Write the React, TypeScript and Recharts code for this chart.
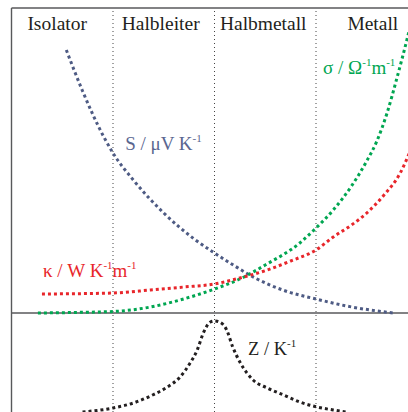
import { LineChart, Line, XAxis, YAxis, ReferenceLine, ReferenceDot } from "recharts";

// x runs across the four material classes (0..4), y is in arbitrary units, 0 = baseline
const CLASSES = ["Isolator", "Halbleiter", "Halbmetall", "Metall"];
const CLASS_X = [0.45, 1.47, 2.48, 3.56];

const SEEBECK = [
  [0.54, 263], [0.7, 222], [0.91, 176], [1.0, 160], [1.2, 133], [1.5, 100],
  [1.8, 74], [2.0, 60], [2.2, 47], [2.4, 35], [2.7, 22], [3.0, 14], [3.3, 7], [3.76, 0],
];
const SIGMA = [
  [0.26, 0], [0.6, 0.5], [1.0, 1.5], [1.37, 6], [1.66, 13], [2.0, 24], [2.25, 34],
  [2.5, 48], [2.84, 70], [3.0, 85], [3.17, 103], [3.35, 127], [3.5, 152], [3.6, 172],
  [3.7, 200], [3.8, 236], [3.9, 275], [3.95, 296],
];
const KAPPA = [
  [0.3, 19], [1.0, 20], [1.37, 23], [1.7, 26], [2.0, 29], [2.25, 35], [2.52, 43],
  [2.75, 52], [3.0, 63], [3.17, 76], [3.35, 88], [3.5, 100], [3.67, 118], [3.83, 140],
  [3.92, 160], [4.0, 180],
];
const ZT = [
  [0.7, -99], [1.0, -95], [1.2, -90], [1.39, -82], [1.52, -75], [1.66, -64], [1.76, -50],
  [1.83, -37], [1.89, -20], [1.96, -9], [2.0, -8], [2.05, -9], [2.12, -17], [2.18, -34],
  [2.25, -49], [2.32, -60], [2.38, -67], [2.52, -75], [2.68, -82], [2.84, -89],
  [3.01, -94], [3.17, -97], [3.3, -99],
];

type Part = { t: string; sup?: boolean };
const LABELS: { x: number; y: number; color: string; size: number; parts: Part[] }[] = [
  { x: 1.12, y: 163, color: "#5a6690", size: 19, parts: [{ t: "S / μV K" }, { t: "-1", sup: true }] },
  { x: 3.07, y: 239, color: "#00a651", size: 19, parts: [{ t: "σ / Ω" }, { t: "-1", sup: true }, { t: "m" }, { t: "-1", sup: true }] },
  { x: 0.31, y: 36, color: "#e8262b", size: 19, parts: [{ t: "κ / W K" }, { t: "-1", sup: true }, { t: "m" }, { t: "-1", sup: true }] },
  { x: 2.33, y: -42, color: "#231f20", size: 18.5, parts: [{ t: "Z / K" }, { t: "-1", sup: true }] },
];

const toRows = (pts: number[][]) => pts.map(([x, y]) => ({ x, y }));

const FONT = "'Liberation Serif', 'Times New Roman', serif";
const FRAME = "#58595b";

function LabelText({ cx, cy, color, size, parts }: { cx?: number; cy?: number; color: string; size: number; parts: Part[] }) {
  const lift = Math.round(size * 0.42);
  const supSize = Math.round(size * 0.58);
  let raised = false;
  return (
    <text x={cx} y={cy} fill={color} fontFamily={FONT} fontSize={size}>
      {parts.map((p, i) => {
        let dy = 0;
        if (p.sup && !raised) { dy = -lift; raised = true; }
        else if (!p.sup && raised) { dy = lift; raised = false; }
        return (
          <tspan key={i} dy={dy} fontSize={p.sup ? supSize : size}>
            {p.t}
          </tspan>
        );
      })}
    </text>
  );
}

function HeaderText({ cx, cy, text }: { cx?: number; cy?: number; text: string }) {
  return (
    <text x={cx} y={cy} fill="#231f20" fontFamily={FONT} fontSize={19.5} textAnchor="middle">
      {text}
    </text>
  );
}

const dotted = { strokeWidth: 3, strokeDasharray: "3 3", dot: false, activeDot: false, isAnimationActive: false } as const;

export default function App() {
  return (
    <div style={{ position: "absolute", left: 0, top: 0, width: 408, height: 412, overflow: "hidden", background: "#fff" }}>
      <LineChart width={430} height={420} margin={{ top: 8, right: 12.5, bottom: 8, left: 11.5 }}>
        <XAxis type="number" dataKey="x" domain={[0, 4]} hide />
        <YAxis type="number" dataKey="y" domain={[-99, 305]} hide />

        {[1, 2, 3].map((x) => (
          <ReferenceLine key={x} x={x} stroke="#444" strokeWidth={1} strokeDasharray="1 3" />
        ))}
        <ReferenceLine y={305} stroke={FRAME} strokeWidth={1.4} />
        <ReferenceLine x={0} stroke={FRAME} strokeWidth={1.4} />
        <ReferenceLine y={0} stroke={FRAME} strokeWidth={1.4} />

        <Line data={toRows(SEEBECK)} dataKey="y" type="monotone" stroke="#4e5b84" {...dotted} />
        <Line data={toRows(SIGMA)} dataKey="y" type="monotone" stroke="#00a651" {...dotted} />
        <Line data={toRows(KAPPA)} dataKey="y" type="monotone" stroke="#e8262b" {...dotted} />
        <Line data={toRows(ZT)} dataKey="y" type="monotone" stroke="#231f20" {...dotted} />

        {CLASSES.map((c, i) => (
          <ReferenceDot key={c} x={CLASS_X[i]} y={283} r={0} shape={(p: any) => <HeaderText cx={p.cx} cy={p.cy} text={c} />} />
        ))}
        {LABELS.map((l, i) => (
          <ReferenceDot key={i} x={l.x} y={l.y} r={0} shape={(p: any) => <LabelText cx={p.cx} cy={p.cy} color={l.color} size={l.size} parts={l.parts} />} />
        ))}
      </LineChart>
    </div>
  );
}
